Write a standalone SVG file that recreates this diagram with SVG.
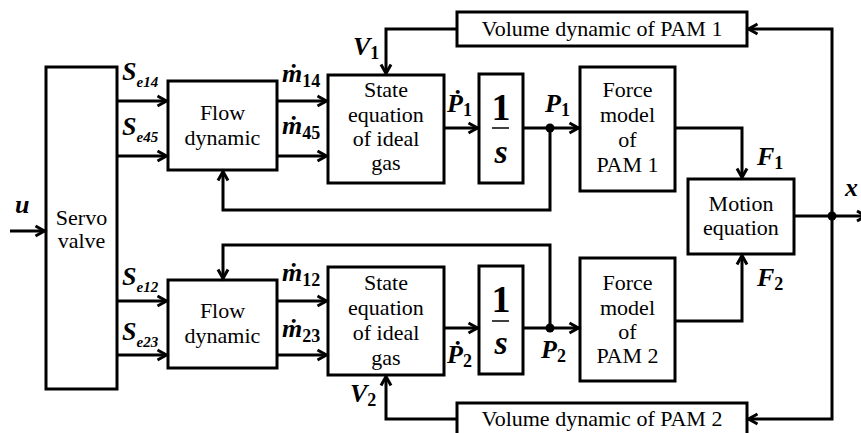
<svg xmlns="http://www.w3.org/2000/svg" width="861" height="433" viewBox="0 0 861 433" font-family="Liberation Serif, Times New Roman, DejaVu Serif, serif">
<style>
.box{fill:#fff;stroke:#000;stroke-width:3}
.ln{fill:none;stroke:#000;stroke-width:3}
.t{font-size:22px;fill:#000;text-anchor:middle}
.lb{font-weight:bold;font-style:italic;font-size:26px;fill:#000}
.sb{font-style:normal;font-size:18px}
.se{font-size:15px}
.big{font-weight:bold;fill:#000;text-anchor:middle}
</style>
<defs>
<marker id="ah" markerUnits="userSpaceOnUse" viewBox="-12 -7 14 14" refX="0" refY="0" markerWidth="14" markerHeight="14" orient="auto" overflow="visible">
<path d="M-9,-5 L0,0 L-9,5" fill="none" stroke="#000" stroke-width="3" stroke-linejoin="miter"/>
</marker>
</defs>
<rect x="0" y="0" width="861" height="433" fill="#fff"/>

<g id="servo"><rect class="box" x="46" y="67" width="71" height="322"/>
<text class="t" x="81.5" y="225">Servo</text><text class="t" x="81.5" y="248">valve</text></g>

<g id="flow1"><rect class="box" x="168" y="81" width="109" height="89"/>
<text class="t" x="222.5" y="120">Flow</text><text class="t" x="222.5" y="145">dynamic</text></g>
<g id="flow2"><rect class="box" x="168" y="280" width="109" height="88"/>
<text class="t" x="222.5" y="318">Flow</text><text class="t" x="222.5" y="343">dynamic</text></g>

<g id="state1"><rect class="box" x="328" y="75" width="116" height="108"/>
<text class="t" x="386" y="97">State</text><text class="t" x="386" y="122">equation</text><text class="t" x="386" y="146">of ideal</text><text class="t" x="386" y="170">gas</text></g>
<g id="state2"><rect class="box" x="328" y="267" width="116" height="108"/>
<text class="t" x="386" y="290">State</text><text class="t" x="386" y="315">equation</text><text class="t" x="386" y="340">of ideal</text><text class="t" x="386" y="365">gas</text></g>

<g id="int1"><rect class="box" x="479" y="74" width="44" height="109"/>
<text class="big" x="501" y="120" font-size="38">1</text>
<line x1="492" y1="128" x2="509" y2="128" stroke="#000" stroke-width="1.5"/>
<text class="big" x="501" y="163" font-size="34" font-style="italic">s</text></g>
<g id="int2"><rect class="box" x="479" y="266" width="44" height="108"/>
<text class="big" x="501" y="312" font-size="38">1</text>
<line x1="492" y1="321" x2="509" y2="321" stroke="#000" stroke-width="1.5"/>
<text class="big" x="501" y="354" font-size="34" font-style="italic">s</text></g>

<g id="force1"><rect class="box" x="580" y="67" width="95" height="124"/>
<text class="t" x="627.5" y="97">Force</text><text class="t" x="627.5" y="122">model</text><text class="t" x="627.5" y="147">of</text><text class="t" x="627.5" y="172">PAM 1</text></g>
<g id="force2"><rect class="box" x="580" y="258" width="95" height="123"/>
<text class="t" x="627.5" y="290">Force</text><text class="t" x="627.5" y="315">model</text><text class="t" x="627.5" y="339">of</text><text class="t" x="627.5" y="363">PAM 2</text></g>

<g id="motion"><rect class="box" x="688" y="179" width="106" height="75"/>
<text class="t" x="741" y="211">Motion</text><text class="t" x="741" y="235">equation</text></g>

<g id="vol1"><rect class="box" x="457" y="12" width="290" height="34"/>
<text class="t" x="602" y="36">Volume dynamic of PAM 1</text></g>
<g id="vol2"><rect class="box" x="457" y="403" width="290" height="40"/>
<text class="t" x="602" y="426">Volume dynamic of PAM 2</text></g>

<g id="connectors">
<path class="ln" marker-end="url(#ah)" d="M10,231 H44.5"/>
<path class="ln" marker-end="url(#ah)" d="M117,101 H166.5"/>
<path class="ln" marker-end="url(#ah)" d="M117,156 H166.5"/>
<path class="ln" marker-end="url(#ah)" d="M117,301 H166.5"/>
<path class="ln" marker-end="url(#ah)" d="M117,355 H166.5"/>
<path class="ln" marker-end="url(#ah)" d="M277,101 H326.5"/>
<path class="ln" marker-end="url(#ah)" d="M277,156 H326.5"/>
<path class="ln" marker-end="url(#ah)" d="M277,301 H326.5"/>
<path class="ln" marker-end="url(#ah)" d="M277,355 H326.5"/>
<path class="ln" marker-end="url(#ah)" d="M444,128 H477.5"/>
<path class="ln" marker-end="url(#ah)" d="M444,328 H477.5"/>
<path class="ln" marker-end="url(#ah)" d="M523,128 H578.5"/>
<path class="ln" marker-end="url(#ah)" d="M523,328 H578.5"/>
<path class="ln" marker-end="url(#ah)" d="M550,128 V210 H223 V171.5"/>
<path class="ln" marker-end="url(#ah)" d="M550,328 V245 H223 V278.5"/>
<path class="ln" marker-end="url(#ah)" d="M457,29 H386 V73.5"/>
<path class="ln" marker-end="url(#ah)" d="M457,419 H386 V376.5"/>
<path class="ln" marker-end="url(#ah)" d="M675,128 H742 V177.5"/>
<path class="ln" marker-end="url(#ah)" d="M675,321 H742 V255.5"/>
<path class="ln" marker-end="url(#ah)" d="M794,216 H866"/>
<path class="ln" marker-end="url(#ah)" d="M832,216 V29 H748.5"/>
<path class="ln" marker-end="url(#ah)" d="M832,216 V419 H748.5"/>
<circle cx="550" cy="128" r="4.5"/>
<circle cx="550" cy="328" r="4.5"/>
<circle cx="832" cy="216" r="4.5"/>
</g>

<g id="labels">
<text class="lb" x="15" y="213">u</text>
<text class="lb" x="122" y="80">S<tspan class="se" dy="7">e14</tspan></text>
<text class="lb" x="122" y="135">S<tspan class="se" dy="7">e45</tspan></text>
<text class="lb" x="122" y="285">S<tspan class="se" dy="7">e12</tspan></text>
<text class="lb" x="122" y="340">S<tspan class="se" dy="7">e23</tspan></text>
<text class="lb" x="282" y="82">ṁ<tspan class="sb" dy="5">14</tspan></text>
<text class="lb" x="282" y="134">ṁ<tspan class="sb" dy="5">45</tspan></text>
<text class="lb" x="282" y="281">ṁ<tspan class="sb" dy="5">12</tspan></text>
<text class="lb" x="282" y="337">ṁ<tspan class="sb" dy="5">23</tspan></text>
<text class="lb" x="353" y="55">V<tspan class="sb" dy="4">1</tspan></text>
<text class="lb" x="350" y="402">V<tspan class="sb" dy="4">2</tspan></text>
<text class="lb" x="447" y="112">Ṗ<tspan class="sb" dy="4">1</tspan></text>
<text class="lb" x="447" y="363">Ṗ<tspan class="sb" dy="4">2</tspan></text>
<text class="lb" x="545" y="112">P<tspan class="sb" dy="4">1</tspan></text>
<text class="lb" x="541" y="358">P<tspan class="sb" dy="4">2</tspan></text>
<text class="lb" x="757" y="165">F<tspan class="sb" dy="4">1</tspan></text>
<text class="lb" x="757" y="286">F<tspan class="sb" dy="4">2</tspan></text>
<text class="lb" x="845" y="196">x</text>
</g>
</svg>
